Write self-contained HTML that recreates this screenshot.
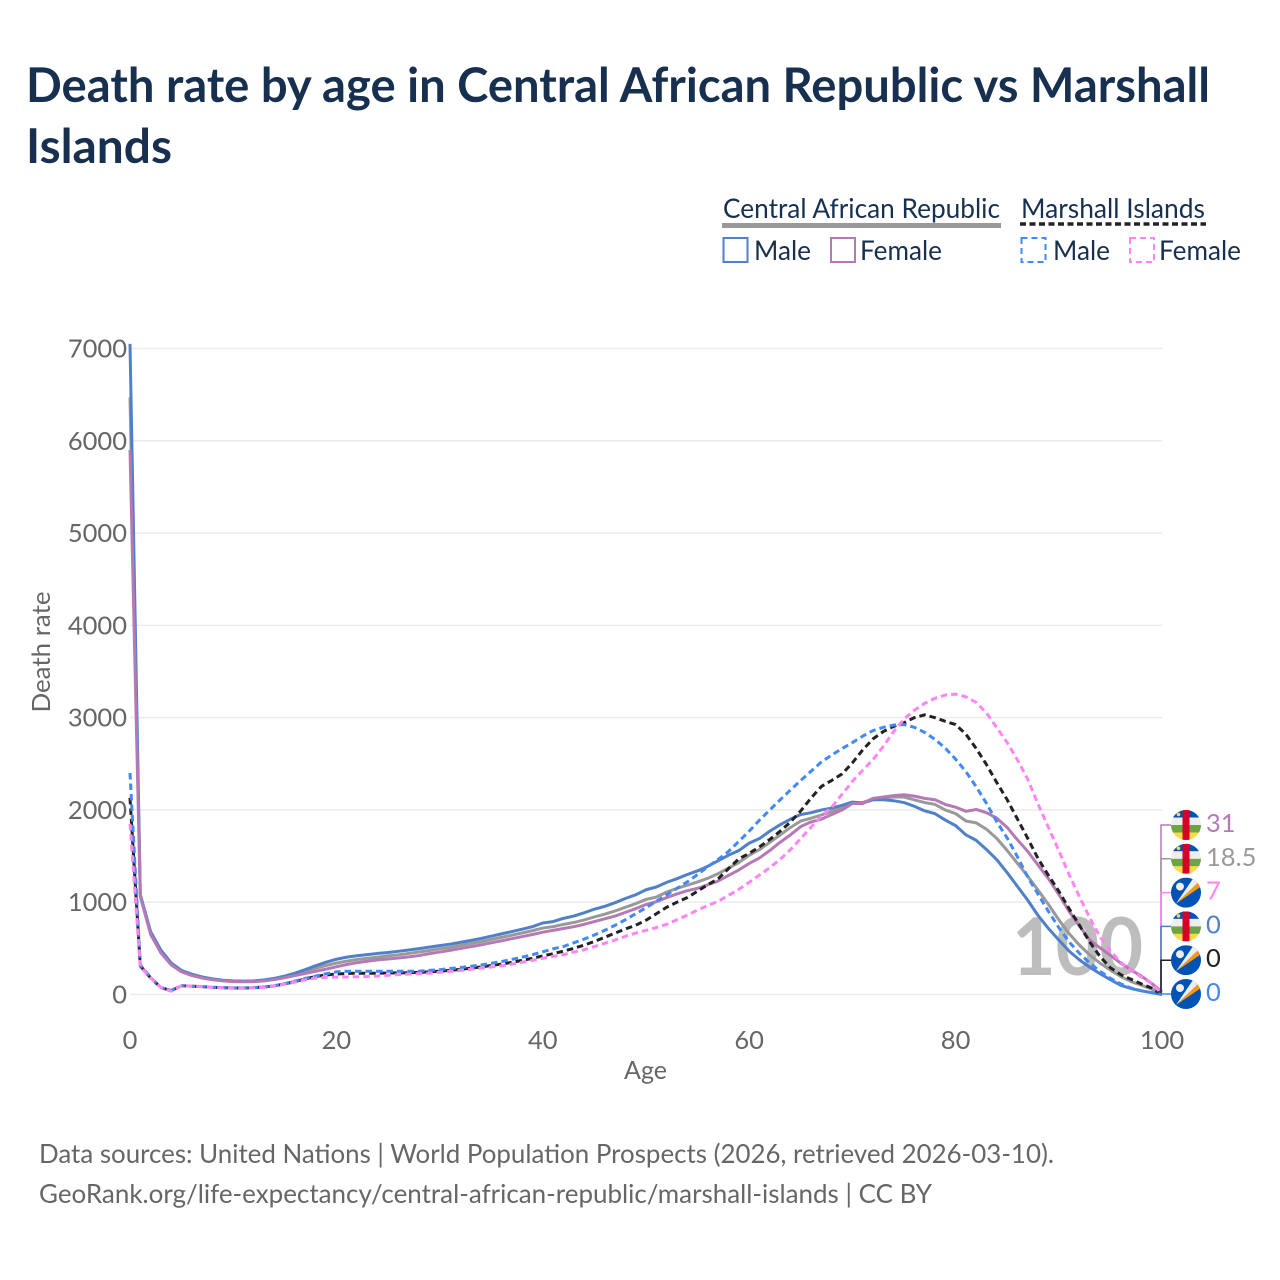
<!DOCTYPE html>
<html>
<head>
<meta charset="utf-8">
<title>Death rate by age in Central African Republic vs Marshall Islands</title>
<style>
html,body{margin:0;padding:0;background:#fff;width:1280px;height:1280px;overflow:hidden}
svg{display:block}
text{font-family:"Lato","Carlito","Liberation Sans",sans-serif}
</style>
</head>
<body>
<svg id="chart" xmlns="http://www.w3.org/2000/svg" width="1280" height="1280" viewBox="0 0 1280 1280">
<defs>
<clipPath id="flag-clip"><circle cx="0" cy="0" r="15"/></clipPath>
</defs>
<text x="26" y="102" font-size="48" font-weight="700" fill="#17304f" textLength="1184" lengthAdjust="spacingAndGlyphs">Death rate by age in Central African Republic vs Marshall</text>
<text x="26" y="163" font-size="48" font-weight="700" fill="#17304f" textLength="146" lengthAdjust="spacingAndGlyphs">Islands</text>

<g>
<text x="723" y="218" font-size="27" fill="#17304f" textLength="277" lengthAdjust="spacingAndGlyphs">Central African Republic</text>
<rect x="722" y="223" width="279" height="5" fill="#999"/>
<text x="1021" y="218" font-size="27" fill="#17304f" textLength="184" lengthAdjust="spacingAndGlyphs">Marshall Islands</text>
<line x1="1020" y1="224" x2="1206" y2="224" stroke="#222" stroke-width="3.5" stroke-dasharray="6 3.5"/>
<g>
<rect x="723.5" y="238" width="24" height="24" fill="none" stroke="#5080c8" stroke-width="2"/>
<text x="754" y="260" font-size="27" fill="#17304f" textLength="57" lengthAdjust="spacingAndGlyphs">Male</text>
</g>
<g>
<rect x="831" y="238" width="24" height="24" fill="none" stroke="#b57ab5" stroke-width="2"/>
<text x="860" y="260" font-size="27" fill="#17304f" textLength="82" lengthAdjust="spacingAndGlyphs">Female</text>
</g>
<g>
<rect x="1021.5" y="238" width="24" height="24" fill="none" stroke="#4189f5" stroke-width="2" stroke-dasharray="6 4"/>
<text x="1053" y="260" font-size="27" fill="#17304f" textLength="57" lengthAdjust="spacingAndGlyphs">Male</text>
</g>
<g>
<rect x="1130" y="238" width="24" height="24" fill="none" stroke="#ff85f3" stroke-width="2" stroke-dasharray="6 4"/>
<text x="1159" y="260" font-size="27" fill="#17304f" textLength="82" lengthAdjust="spacingAndGlyphs">Female</text>
</g>
</g>

<g id="grid"></g>
<text x="1012" y="975" font-size="80" font-weight="700" fill="#bdbdbd" textLength="131" lengthAdjust="spacingAndGlyphs">100</text>
<g id="axes"></g>
<g id="series"></g>
<g id="ends"></g>

<text x="645.5" y="1079" font-size="25" fill="#666" text-anchor="middle" textLength="43" lengthAdjust="spacingAndGlyphs">Age</text>
<text transform="translate(50,652) rotate(-90)" font-size="25" fill="#666" text-anchor="middle" textLength="121" lengthAdjust="spacingAndGlyphs">Death rate</text>
<text x="39" y="1163" font-size="26" fill="#666" textLength="1015" lengthAdjust="spacingAndGlyphs">Data sources: United Nations | World Population Prospects (2026, retrieved 2026-03-10).</text>
<text x="39" y="1203" font-size="26" fill="#666" textLength="893" lengthAdjust="spacingAndGlyphs">GeoRank.org/life-expectancy/central-african-republic/marshall-islands | CC BY</text>
</svg>
<script>
const yTicks = [0, 1000, 2000, 3000, 4000, 5000, 6000, 7000];
const xTicks = [0, 20, 40, 60, 80, 100];
const carBoth = [6470,1075,665,465,330,252,212,184,165,152,144,142,144,153,168,190,217,252,285,315,340,362,380,392,405,418,430,445,461,477,495,511,531,551,572,596,619,643,667,692,720,735,760,780,808,840,870,905,945,985,1030,1055,1110,1150,1185,1220,1260,1310,1370,1430,1510,1570,1650,1730,1810,1880,1910,1945,1985,2020,2070,2080,2120,2130,2140,2140,2110,2080,2060,2000,1960,1880,1860,1790,1690,1560,1420,1280,1130,975,810,660,535,428,340,265,195,140,100,60,18.5];
const carMale = [7050,1080,680,480,340,260,220,190,170,155,148,145,148,158,175,200,232,270,312,350,382,405,420,432,445,455,468,482,497,513,530,545,565,585,607,632,657,682,708,735,775,790,825,850,885,925,955,995,1040,1080,1135,1165,1215,1255,1300,1340,1390,1450,1510,1560,1640,1690,1770,1840,1900,1950,1970,2000,2020,2050,2085,2075,2110,2110,2100,2080,2040,1990,1960,1890,1830,1730,1670,1570,1460,1320,1170,1020,855,715,590,470,375,295,225,160,100,65,40,20,0];
const carFemale = [5900,1060,650,450,320,245,205,178,160,148,140,138,140,148,162,182,205,228,252,275,300,325,345,360,375,385,395,408,422,442,460,478,498,518,538,560,582,605,628,650,675,695,715,735,760,790,820,850,890,930,975,1005,1050,1090,1125,1150,1190,1230,1290,1350,1420,1480,1560,1650,1730,1820,1870,1900,1950,2000,2070,2070,2125,2140,2155,2165,2150,2125,2110,2060,2030,1985,2005,1970,1910,1810,1675,1550,1400,1255,1085,900,745,590,505,425,340,265,200,120,31];
const miBoth = [2130,310,180,75,42,95,90,85,78,74,70,70,73,80,95,115,140,170,195,212,222,228,230,230,231,232,234,236,240,245,253,262,272,285,298,315,330,348,370,392,418,442,470,500,535,575,620,665,710,750,805,875,945,1000,1050,1120,1190,1255,1365,1470,1530,1600,1680,1770,1869,1990,2130,2255,2320,2390,2510,2650,2770,2850,2905,2945,3000,3030,3000,2960,2925,2820,2665,2490,2295,2110,1900,1690,1470,1290,1120,930,750,569,410,290,215,165,115,70,0];
const miMale = [2400,320,185,75,45,95,90,85,78,75,72,72,75,82,95,118,145,175,200,225,245,252,252,252,252,252,252,252,252,262,268,282,292,305,320,337,357,380,405,432,462,495,520,560,600,645,695,750,810,875,940,1010,1080,1150,1220,1300,1385,1465,1550,1660,1770,1890,2000,2110,2216,2320,2420,2520,2595,2665,2730,2800,2860,2895,2920,2925,2895,2840,2765,2670,2550,2415,2250,2070,1870,1695,1490,1270,1085,900,725,570,445,341,250,175,115,70,40,20,0];
const miFemale = [1850,300,180,75,35,95,90,85,78,72,68,68,72,78,92,112,135,160,178,185,188,190,192,195,200,208,216,222,226,232,240,250,260,272,285,298,310,330,350,370,392,414,432,460,485,520,555,590,630,665,695,725,760,810,860,915,965,1010,1075,1140,1215,1295,1375,1465,1570,1690,1815,1935,2030,2170,2310,2430,2545,2690,2850,2985,3080,3155,3210,3245,3255,3225,3165,3050,2890,2730,2540,2330,2060,1810,1560,1300,1060,830,623,470,350,260,190,120,7];
const endLabels = ["31", "18.5", "7", "0", "0", "0"];

const NS = "http://www.w3.org/2000/svg";
function xScale(age) { return 130 + age * 10.32; }
function yScale(v) { return 994.5 - v * 646 / 7000; }
function mk(tag, attrs, parent, txt) {
  const el = document.createElementNS(NS, tag);
  for (const k in attrs) el.setAttribute(k, attrs[k]);
  if (txt !== undefined) el.textContent = txt;
  parent.appendChild(el);
  return el;
}
const gridG = document.getElementById("grid");
const axesG = document.getElementById("axes");
const seriesG = document.getElementById("series");
const endsG = document.getElementById("ends");

yTicks.forEach(function (t) {
  const gl = mk("line", {x1: xScale(0), x2: xScale(100), y1: yScale(t), y2: yScale(t), stroke: "#ebebeb", "stroke-width": 1.5}, gridG);
  
  
  const lb = mk("text", {x: 127, y: yScale(t) + 9, "font-size": 25.5, fill: "#666", "text-anchor": "end"}, axesG, String(t));
  
  
});
xTicks.forEach(function (t) {
  const lb = mk("text", {x: xScale(t), y: 1049, "font-size": 25.5, fill: "#666", "text-anchor": "middle"}, axesG, String(t));
  
  
});

function linePath(values) {
  return values.map(function (v, i) {
    return (i ? "L" : "M") + xScale(i).toFixed(2) + " " + yScale(v).toFixed(2);
  }).join("");
}
function drawLine(values, color, dash) {
  const p = mk("path", {d: linePath(values), fill: "none", stroke: color, "stroke-width": 3, "stroke-linejoin": "round"}, seriesG);
  if (dash) p.setAttribute("stroke-dasharray", "6.5 4");
  return p;
}
const lineA = drawLine(carBoth, "#999999", false);


const lineB = drawLine(carMale, "#5080c8", false);


const lineC = drawLine(carFemale, "#b57ab5", false);


const lineD = drawLine(miBoth, "#222222", true);


const lineE = drawLine(miMale, "#4189f5", true);


const lineF = drawLine(miFemale, "#ff85f3", true);



const endColors = ["#b57ab5", "#999999", "#ff85f3", "#5080c8", "#222222", "#4189f5"];
const endFlags = ["car", "car", "mi", "car", "mi", "mi"];

function drawFlag(kind, cy) {
  const g = mk("g", {transform: "translate(1186," + cy + ")", "clip-path": "url(#flag-clip)"}, endsG);
  if (kind === "car") {
    mk("rect", {x: -15, y: -15, width: 30, height: 7.5, fill: "#0052b4"}, g);
    mk("rect", {x: -15, y: -7.5, width: 30, height: 7.5, fill: "#eeeeee"}, g);
    mk("rect", {x: -15, y: 0, width: 30, height: 7.5, fill: "#6da544"}, g);
    mk("rect", {x: -15, y: 7.5, width: 30, height: 7.5, fill: "#ffda44"}, g);
    mk("rect", {x: -3.5, y: -15, width: 7, height: 30, fill: "#d80027"}, g);
    mk("circle", {cx: -7.5, cy: -10.5, r: 1.8, fill: "#ffda44"}, g);
  } else {
    mk("rect", {x: -15, y: -15, width: 30, height: 30, fill: "#0052b4"}, g);
    mk("polygon", {points: "-10,11 13,-11 15,-6", fill: "#ff9811"}, g);
    mk("polygon", {points: "-10,11 13,-11 7,-14", fill: "#eeeeee"}, g);
    mk("circle", {cx: -6, cy: -6, r: 4, fill: "#eeeeee"}, g);
  }
  return g;
}
endLabels.forEach(function (label, i) {
  const slot = 825 + i * 33.8;
  const conn = mk("path", {d: "M1161 994.5V" + slot + "H1171", fill: "none", stroke: endColors[i], "stroke-width": 1.5}, endsG);
  
  
});
endLabels.forEach(function (label, i) {
  const slot = 825 + i * 33.8;
  const flag = drawFlag(endFlags[i], slot);
  
  
  const tx = mk("text", {x: 1206, y: slot + 7, "font-size": 25.5, fill: endColors[i]}, endsG, label);
  
  
});
</script>
</body>
</html>
